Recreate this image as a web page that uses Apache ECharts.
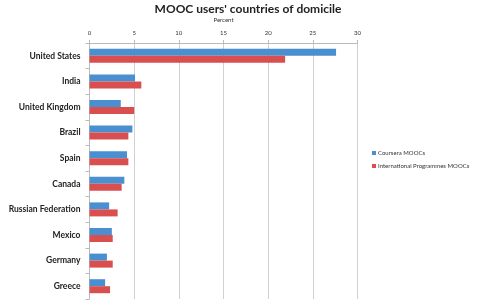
<!DOCTYPE html>
<html>
<head>
<meta charset="utf-8">
<script src="https://cdn.jsdelivr.net/npm/echarts@6/dist/echarts.min.js"></script>
<style>
  html, body { margin: 0; padding: 0; background: #fff; }
  #chart { width: 495px; height: 306px; }
</style>
</head>
<body>
<div id="chart"></div>
<script>
// countries, top to bottom
const countries = [
  "United States", "India", "United Kingdom", "Brazil", "Spain",
  "Canada", "Russian Federation", "Mexico", "Germany", "Greece"
];
// percent values
const courseraMoocs = [27.6, 5.1, 3.5, 4.8, 4.2, 3.9, 2.2, 2.5, 1.95, 1.75];
const ipMoocs = [21.9, 5.8, 5.0, 4.35, 4.35, 3.6, 3.15, 2.6, 2.6, 2.3];
const seriesNames = ["Coursera MOOCs", "International Programmes MOOCs"];

const chart = echarts.init(document.getElementById("chart"));

const option = {
  animation: false,
  textStyle: { fontFamily: "Lato" },
  title: {
    text: "MOOC users' countries of domicile",
    left: 243,
    textAlign: "center",
    top: -2,
    textStyle: { fontSize: 12, fontWeight: "bold", color: "#222", fontFamily: "Lato" },
  },
  legend: {
    orient: "vertical",
    left: 367,
    top: 145,
    itemWidth: 4,
    itemHeight: 4,
    itemGap: 7,
    icon: "rect",
    textStyle: { fontSize: 6, color: "#333", padding: [0, 0, 0, -3] },
    data: seriesNames,
  },
  grid: { left: 89.5, right: 137.5, top: 43, bottom: 7 },
  xAxis: {
    type: "value",
    position: "top",
    min: 0,
    max: 30,
    interval: 5,
    name: "Percent",
    nameLocation: "middle",
    nameGap: 20,
    nameTextStyle: { fontSize: 6, color: "#333" },
    axisLine: { show: true, lineStyle: { color: "#bbb" } },
    axisTick: { show: true, length: 3, lineStyle: { color: "#bbb" } },
    axisLabel: { fontSize: 6, color: "#333", margin: 7 },
    splitLine: { show: true, lineStyle: { color: "#d0d0d0" } },
  },
  yAxis: {
    type: "category",
    inverse: true,
    data: countries,
    axisLine: { show: true, lineStyle: { color: "#bbb" } },
    axisTick: { show: true, length: 4, lineStyle: { color: "#bbb" } },
    axisLabel: { fontSize: 8.5, fontWeight: "bold", color: "#222", margin: 9 },
  },
  series: [
    {
      name: seriesNames[0],
      type: "bar",
      data: courseraMoocs,
      barWidth: 7,
      barGap: "0%",
      itemStyle: { color: "#4a8fd0" },
    },
    {
      name: seriesNames[1],
      type: "bar",
      data: ipMoocs,
      barWidth: 7,
      itemStyle: { color: "#d94f4f" },
    },
  ],
};

chart.setOption(option);
</script>
</body>
</html>
